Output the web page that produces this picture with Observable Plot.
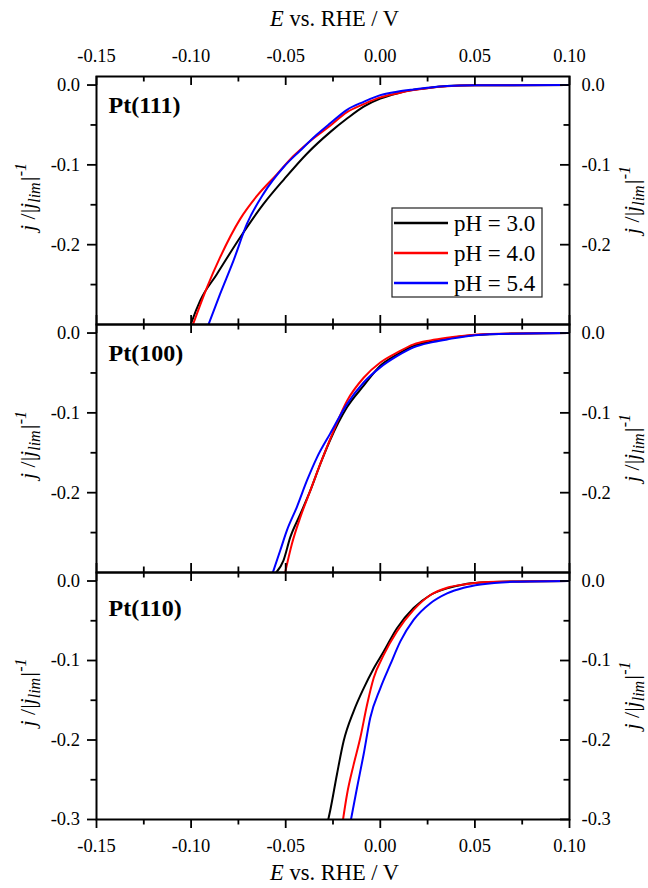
<!DOCTYPE html>
<html><head><meta charset="utf-8">
<script src="https://cdn.jsdelivr.net/npm/d3@7"></script>
<script src="https://cdn.jsdelivr.net/npm/@observablehq/plot@0.6"></script>
<style>
body{margin:0;background:#fff;}
#chart{width:648px;height:888px;position:relative;}
#chart svg{display:block;overflow:visible;}
</style></head><body><div id="chart"></div>
<script>
// ---------- data ----------
const panels = ["Pt(111)", "Pt(100)", "Pt(110)"];
const series = ["pH = 3.0", "pH = 4.0", "pH = 5.4"];
const colors = ["#000000", "#ff0000", "#0000ff"];
const xMajorTicks = [-0.15, -0.10, -0.05, 0.00, 0.05, 0.10];
const xMinorTicks = [-0.125, -0.075, -0.025, 0.025, 0.075];
const yLabelTicksUpper = [0.0, -0.1, -0.2];
const yLabelTicksLower = [0.0, -0.1, -0.2, -0.3];
const yMinorTicks = [-0.05, -0.15, -0.25];
const xDomain = [-0.15, 0.10];
const yDomain = [-0.3, 0.0107];
const xTitle = ["E", " vs. RHE / V"];

// Pt(111): [E (V vs RHE), j/|jlim|]
const pt111_pH30 = [[-0.1002,-0.300],[-0.0996,-0.296],[-0.0952,-0.270],[-0.0864,-0.237],[-0.0741,-0.191],[-0.0617,-0.149],[-0.0512,-0.119],[-0.0388,-0.086],[-0.0265,-0.059],[-0.0176,-0.042],[-0.0088,-0.027],[0.0,-0.017],[0.0088,-0.0105],[0.0176,-0.006],[0.0265,-0.0034],[0.0353,-0.0013],[0.05,-0.0003],[0.10,0.0]];
const pt111_pH40 = [[-0.0990,-0.300],[-0.0917,-0.254],[-0.0847,-0.216],[-0.0741,-0.168],[-0.0652,-0.139],[-0.0547,-0.112],[-0.0459,-0.089],[-0.0370,-0.070],[-0.0265,-0.051],[-0.0176,-0.034],[-0.0088,-0.024],[0.0,-0.0155],[0.0088,-0.0105],[0.0176,-0.0063],[0.0265,-0.0034],[0.0353,-0.0015],[0.05,-0.0004],[0.10,0.0]];
const pt111_pH54 = [[-0.0908,-0.300],[-0.0847,-0.262],[-0.0776,-0.220],[-0.0705,-0.174],[-0.0617,-0.136],[-0.0512,-0.103],[-0.0423,-0.082],[-0.0335,-0.062],[-0.0265,-0.048],[-0.0176,-0.031],[-0.0088,-0.021],[0.0,-0.0126],[0.0088,-0.0084],[0.0176,-0.0055],[0.0265,-0.003],[0.0353,-0.0013],[0.05,-0.0003],[0.10,0.0]];
// Pt(100)
const pt100_pH30 = [[-0.0550,-0.300],[-0.0512,-0.285],[-0.0476,-0.256],[-0.0423,-0.227],[-0.0370,-0.1975],[-0.0317,-0.164],[-0.0265,-0.134],[-0.0176,-0.093],[-0.0088,-0.066],[0.0,-0.041],[0.0088,-0.027],[0.0176,-0.016],[0.0265,-0.011],[0.0353,-0.0067],[0.05,-0.0025],[0.07,-0.0007],[0.10,0.0]];
const pt100_pH40 = [[-0.0503,-0.300],[-0.0467,-0.264],[-0.0423,-0.231],[-0.0370,-0.1975],[-0.0317,-0.164],[-0.0265,-0.133],[-0.0176,-0.085],[-0.0088,-0.056],[0.0,-0.037],[0.0088,-0.0246],[0.0176,-0.0142],[0.0265,-0.0092],[0.0353,-0.0058],[0.05,-0.002],[0.07,-0.0005],[0.10,0.0]];
const pt100_pH54 = [[-0.0568,-0.300],[-0.0529,-0.2725],[-0.0494,-0.2475],[-0.0441,-0.218],[-0.0388,-0.185],[-0.0335,-0.156],[-0.0265,-0.126],[-0.0176,-0.089],[-0.0088,-0.062],[0.0,-0.043],[0.0088,-0.029],[0.0176,-0.018],[0.0265,-0.012],[0.0353,-0.008],[0.05,-0.0027],[0.07,-0.0008],[0.10,0.0]];
// Pt(110)
const pt110_pH30 = [[-0.0275,-0.300],[-0.0265,-0.289],[-0.0229,-0.243],[-0.0194,-0.2017],[-0.0141,-0.164],[-0.0088,-0.135],[-0.0035,-0.110],[0.0018,-0.0887],[0.0088,-0.0595],[0.0176,-0.034],[0.0265,-0.0176],[0.0353,-0.0093],[0.0441,-0.0043],[0.053,-0.002],[0.07,-0.0005],[0.10,0.0]];
const pt110_pH40 = [[-0.0197,-0.300],[-0.0176,-0.2685],[-0.0141,-0.231],[-0.0106,-0.1975],[-0.0070,-0.1556],[-0.0035,-0.122],[0.0018,-0.093],[0.0088,-0.0636],[0.0176,-0.0364],[0.0265,-0.0176],[0.0353,-0.0084],[0.0441,-0.0043],[0.0618,-0.001],[0.10,0.0]];
const pt110_pH54 = [[-0.0155,-0.300],[-0.0123,-0.260],[-0.0088,-0.218],[-0.0053,-0.172],[0.0,-0.135],[0.0053,-0.105],[0.0106,-0.076],[0.0176,-0.049],[0.0265,-0.028],[0.0353,-0.0156],[0.0441,-0.0084],[0.053,-0.0043],[0.07,-0.001],[0.10,0.0]];

const curves = [
  [pt111_pH30, pt111_pH40, pt111_pH54],
  [pt100_pH30, pt100_pH40, pt100_pH54],
  [pt110_pH30, pt110_pH40, pt110_pH54]
];
const rows = [];
panels.forEach((p, i) => series.forEach((s, k) => curves[i][k].forEach(([E, j]) => rows.push({panel: p, series: s, E, j}))));

// ---------- layout ----------
const W = 648, ML = 96, MR = 79, PW = W - ML - MR;
const layout = [
  {mt: 76, h: 248, mb: 0, labelDy: 36},
  {mt: 0, h: 248, mb: 0, labelDy: 36},
  {mt: 0, h: 247, mb: 69, labelDy: 43}
];
const FONT = "Liberation Serif, Times New Roman, serif";
const MAJ = 9, MIN = 5.5, TW = 1.8;
const fx = d => d.toFixed(2);
const fy = d => d.toFixed(1);

const chart = document.getElementById("chart");

panels.forEach((p, i) => {
  const L = layout[i];
  const first = i === 0, last = i === 2;
  const yLab = last ? yLabelTicksLower : yLabelTicksUpper;
  const marks = [
    Plot.line(rows.filter(d => d.panel === p), {x: "E", y: "j", z: "series", stroke: "series", strokeWidth: 2, curve: "monotone-x", clip: true}),
    // top inward x ticks
    Plot.tickX(xMajorTicks, {x: d => d, insetBottom: L.h - MAJ, strokeWidth: TW}),
    Plot.tickX(xMinorTicks, {x: d => d, insetBottom: L.h - MIN, strokeWidth: TW}),
    // left y axis (outward)
    Plot.axisY({anchor: "left", ticks: yLab, tickSize: MAJ, tickPadding: 7.5, tickFormat: fy, label: null, strokeWidth: TW, fontSize: 18.5}),
    Plot.axisY({anchor: "left", ticks: yMinorTicks, tickSize: MIN, fill: "none", label: null, strokeWidth: TW}),
    // right y axis (inward ticks)
    Plot.tickY(yLab, {y: d => d, insetLeft: PW - MAJ, strokeWidth: TW}),
    Plot.tickY(yMinorTicks, {y: d => d, insetLeft: PW - MIN, strokeWidth: TW}),
    Plot.axisY({anchor: "right", ticks: yLab, tickSize: 0, tickPadding: 12, tickFormat: fy, label: null, fontSize: 18.5}),
    Plot.frame({strokeWidth: 2}),
    Plot.text([p], {text: d => d, frameAnchor: "top-left", dx: 12, dy: L.labelDy, textAnchor: "start", lineAnchor: "bottom", fontWeight: "bold", fontSize: 24})
  ];
  if (first) {
    marks.push(Plot.axisX({anchor: "top", ticks: xMajorTicks, tickSize: 0, tickPadding: 15, tickFormat: fx, label: null, fontSize: 18.5}));
  }
  if (!last) {
    marks.push(Plot.tickX(xMajorTicks, {x: d => d, insetTop: L.h - MAJ, strokeWidth: TW}));
    marks.push(Plot.tickX(xMinorTicks, {x: d => d, insetTop: L.h - MIN, strokeWidth: TW}));
  } else {
    marks.push(Plot.axisX({anchor: "bottom", ticks: xMajorTicks, tickSize: MAJ, tickPadding: 10.5, tickFormat: fx, label: null, strokeWidth: TW, fontSize: 18.5}));
    marks.push(Plot.axisX({anchor: "bottom", ticks: xMinorTicks, tickSize: MIN, fill: "none", label: null, strokeWidth: TW}));
  }
  const svg = Plot.plot({
    width: W,
    height: L.mt + L.h + L.mb,
    marginLeft: ML, marginRight: MR, marginTop: L.mt, marginBottom: L.mb,
    x: {domain: xDomain, axis: null},
    y: {domain: yDomain, axis: null},
    color: {domain: series, range: colors},
    style: {fontFamily: FONT, fontSize: "18.5px", color: "#000", background: "transparent", overflow: "visible"},
    marks
  });
  chart.appendChild(svg);

  const s = d3.select(svg);
  const cy = L.mt + L.h / 2;
  // y labels (left and right)
  const addYLabel = (x, y) => {
    const t = s.append("text").attr("transform", `translate(${x},${y}) rotate(-90)`)
      .attr("text-anchor", "middle").attr("font-size", 22).attr("font-family", FONT).attr("fill", "#000");
    t.append("tspan").attr("font-style", "italic").text("j");
    t.append("tspan").text(" /|");
    t.append("tspan").attr("font-style", "italic").text("j");
    t.append("tspan").attr("font-style", "italic").attr("font-size", 16).attr("dy", 5).text("lim");
    t.append("tspan").attr("font-style", "italic").attr("dy", -5).text("|");
    t.append("tspan").attr("font-style", "italic").attr("font-size", 16).attr("dy", -9).text("-1");
  };
  addYLabel(35, cy - 3);
  addYLabel(639, cy);

  const addXTitle = (y) => {
    const t = s.append("text").attr("x", ML + PW / 2 + 2).attr("y", y).attr("text-anchor", "middle")
      .attr("font-size", 22.5).attr("font-family", FONT).attr("fill", "#000");
    t.append("tspan").attr("font-style", "italic").text(xTitle[0]);
    t.append("tspan").text(xTitle[1]);
  };
  if (first) {
    addXTitle(26);
    // legend
    const lg = s.append("g").attr("font-family", FONT).attr("font-size", 23).attr("text-anchor", "start");
    const bx = ML + 296, by = L.mt + 132;
    lg.append("rect").attr("x", bx).attr("y", by).attr("width", 150).attr("height", 89)
      .attr("fill", "#fff").attr("stroke", "#222").attr("stroke-width", 1.2);
    series.forEach((name, k) => {
      const ly = by + 15 + k * 30;
      lg.append("line").attr("x1", bx + 2).attr("x2", bx + 56).attr("y1", ly).attr("y2", ly)
        .attr("stroke", colors[k]).attr("stroke-width", 2.5);
      lg.append("text").attr("x", bx + 62).attr("y", ly + 7.5).attr("fill", "#000").text(name);
    });
  }
  if (last) addXTitle(L.h + 61);
});
</script></body></html>
